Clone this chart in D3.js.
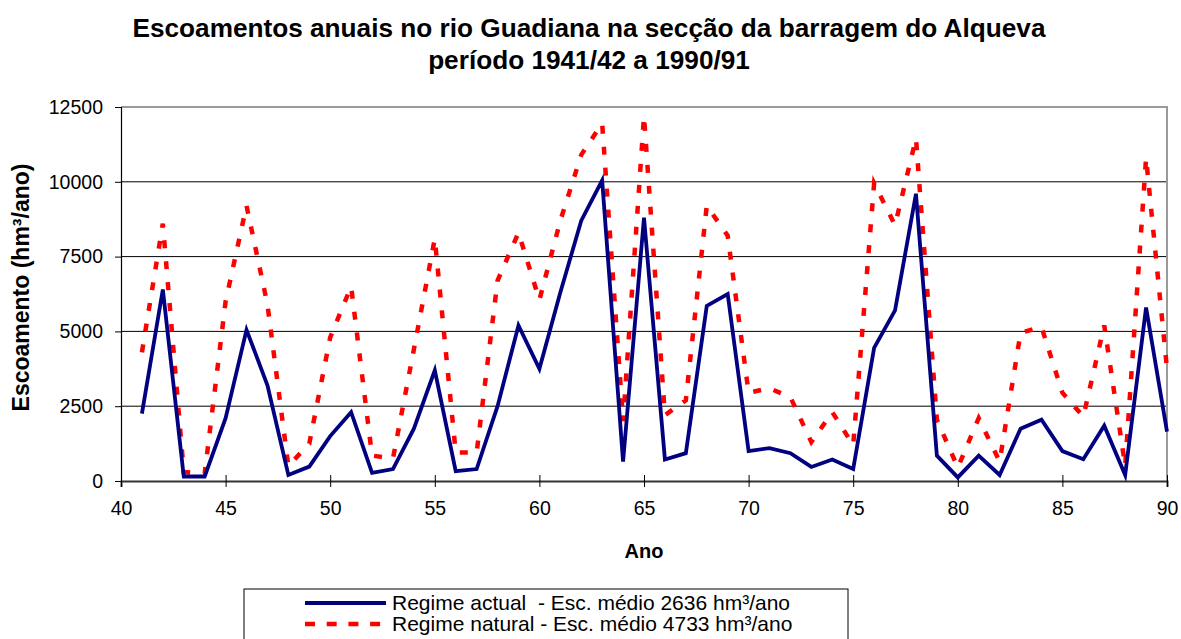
<!DOCTYPE html>
<html>
<head>
<meta charset="utf-8">
<script src="https://cdn.jsdelivr.net/npm/d3@7"></script>
<style>
  html, body { margin: 0; padding: 0; background: #fff; }
  svg { display: block; }
  text { font-family: Arial, "Liberation Sans", sans-serif; }
</style>
</head>
<body>
<svg id="chart" width="1181" height="639"></svg>
<script>
// ---- Data ----
const years = [41,42,43,44,45,46,47,48,49,50,51,52,53,54,55,56,57,58,59,60,
               61,62,63,64,65,66,67,68,69,70,71,72,73,74,75,76,77,78,79,80,
               81,82,83,84,85,86,87,88,89,90];
const regimeActual = [2250,6400,150,150,2100,5050,3200,200,480,1500,
                      2300,270,400,1750,3700,330,400,2500,5200,3750,
                      6300,8700,10050,650,8800,720,930,5850,6250,1000,
                      1100,930,470,720,400,4450,5700,9600,850,120,
                      850,200,1750,2050,1000,730,1850,200,5800,1650];
const regimeNatural = [4300,8600,300,250,6000,9200,5900,500,1250,4800,
                       6500,850,750,4400,8100,950,950,6700,8300,6050,
                       8700,10900,11950,2000,12200,2200,2700,9200,8200,2950,
                       3100,2800,1300,2300,1200,9950,8550,11450,2050,450,
                       2100,650,4950,5150,2950,2150,5200,500,10800,3750];
const xTicks = [40,45,50,55,60,65,70,75,80,85,90];
const yTicks = [0,2500,5000,7500,10000,12500];
const titleLines = ["Escoamentos anuais no rio Guadiana na secção da barragem do Alqueva",
                    "período 1941/42 a 1990/91"];
const xTitle = "Ano";
const yTitle = "Escoamento (hm³/ano)";
const legendLabels = ["Regime actual  - Esc. médio 2636 hm³/ano",
                      "Regime natural - Esc. médio 4733 hm³/ano"];

// ---- Layout ----
const svg = d3.select("#chart");
const plot = {left: 121, right: 1167, top: 107, bottom: 481};
const x = d3.scaleLinear().domain([40, 90]).range([plot.left, plot.right]);
const y = d3.scaleLinear().domain([0, 12500]).range([plot.bottom, plot.top]);

// Title
svg.append("g").selectAll("text").data(titleLines).join("text")
  .attr("x", 589).attr("y", (d, i) => 37 + i * 32)
  .attr("text-anchor", "middle")
  .attr("font-size", 26.2).attr("font-weight", "bold")
  .text(d => d);

// Gridlines
svg.append("g").selectAll("line").data(yTicks.filter(v => v > 0 && v < 12500)).join("line")
  .attr("x1", plot.left).attr("x2", plot.right)
  .attr("y1", d => y(d)).attr("y2", d => y(d))
  .attr("stroke", "#000").attr("stroke-width", 1);

// Plot border (top and right, grey)
svg.append("path")
  .attr("d", `M${plot.left},${y(12500)}H${plot.right}V${plot.bottom}`)
  .attr("fill", "none").attr("stroke", "#9a9a9a").attr("stroke-width", 2);

// Y axis
const yAxis = svg.append("g").attr("transform", `translate(${plot.left},0)`)
  .call(d3.axisLeft(y).tickValues(yTicks).tickSize(6).tickPadding(12).tickFormat(d3.format("d")));
yAxis.select(".domain").attr("stroke", "#000").attr("stroke-width", 1.2);
yAxis.selectAll(".tick line").attr("stroke", "#000");
yAxis.selectAll("text").attr("font-size", 19.5).attr("fill", "#000")
  .style("font-family", "Arial, 'Liberation Sans', sans-serif");

// X axis
const xAxis = svg.append("g").attr("transform", `translate(0,${plot.bottom})`)
  .call(d3.axisBottom(x).tickValues(xTicks).tickSize(6).tickPadding(14).tickFormat(d3.format("d")));
xAxis.select(".domain").attr("stroke", "#333").attr("stroke-width", 2);
xAxis.selectAll(".tick line").attr("y1", -6).attr("y2", 6).attr("stroke", "#000");
xAxis.selectAll("text").attr("font-size", 19.5).attr("fill", "#000")
  .style("font-family", "Arial, 'Liberation Sans', sans-serif");

// Axis titles
svg.append("text").attr("x", 644).attr("y", 558)
  .attr("text-anchor", "middle").attr("font-size", 20).attr("font-weight", "bold")
  .text(xTitle);
svg.append("text")
  .attr("transform", `translate(29,${(157 + 418) / 2}) rotate(-90)`)
  .attr("text-anchor", "middle").attr("font-size", 23).attr("font-weight", "bold")
  .text(yTitle);

// Lines
const line = d3.line().x((d, i) => x(years[i])).y(d => y(d));
svg.append("path").datum(regimeNatural)
  .attr("d", line).attr("fill", "none")
  .attr("stroke", "#ff0000").attr("stroke-width", 4.5)
  .attr("stroke-dasharray", "8,13");
svg.append("path").datum(regimeActual)
  .attr("d", line).attr("fill", "none")
  .attr("stroke", "#000080").attr("stroke-width", 3.8)
  .attr("stroke-linejoin", "miter");

// Legend
const lg = svg.append("g");
lg.append("rect").attr("x", 244).attr("y", 589).attr("width", 604).attr("height", 70)
  .attr("fill", "#fff").attr("stroke", "#000").attr("stroke-width", 1);
const legendStyles = [
  {stroke: "#000080", width: 3.8, dash: null},
  {stroke: "#ff0000", width: 4.5, dash: "10,11.7"}
];
legendLabels.forEach((lab, i) => {
  const cy = 603 + i * 21;
  lg.append("line").attr("x1", 305).attr("x2", 386).attr("y1", cy).attr("y2", cy)
    .attr("stroke", legendStyles[i].stroke).attr("stroke-width", legendStyles[i].width)
    .attr("stroke-dasharray", legendStyles[i].dash);
  lg.append("text").attr("x", 392).attr("y", cy + 7)
    .attr("font-size", 21).attr("xml:space", "preserve")
    .style("white-space", "pre")
    .text(lab);
});
</script>
</body>
</html>
